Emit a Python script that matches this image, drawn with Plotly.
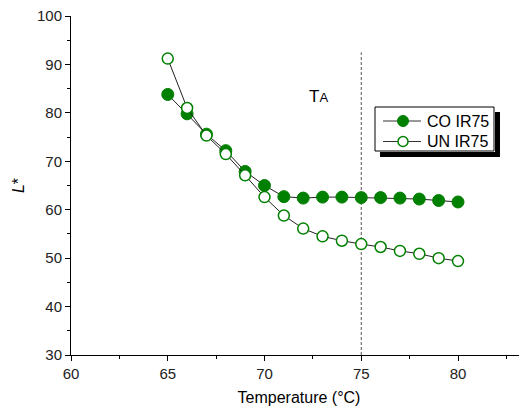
import plotly.graph_objects as go

temps = [65, 66, 67, 68, 69, 70, 71, 72, 73, 74, 75, 76, 77, 78, 79, 80]
co_ir75 = [83.8, 79.8, 75.6, 72.2, 67.9, 65.0, 62.7, 62.4, 62.6, 62.6, 62.5, 62.5, 62.4, 62.2, 61.9, 61.6]
un_ir75 = [91.2, 81.0, 75.3, 71.5, 67.1, 62.6, 58.8, 56.1, 54.5, 53.6, 52.9, 52.3, 51.5, 50.9, 50.0, 49.4]
series_names = ["CO IR75", "UN IR75"]
ta_temp = 75
ta_top = 92.5

green = "#008000"
font = "Liberation Sans, Arial, sans-serif"

# page offset: browser body margin of 8px
OFF = 8
PAGE_W, PAGE_H = 527, 410
W, H = PAGE_W - OFF, PAGE_H - OFF
# plot area in page pixels: x 71..527, y 16.5..355
ml, mr, mt, mb = 71 - OFF, 0, 16 - OFF, PAGE_H - 355
pw, ph = W - ml - mr, H - mt - mb


def px(x):
    return (x - OFF - ml) / pw


def py(y):
    return (H - mb - (y - OFF)) / ph


fig = go.Figure()
fig.add_trace(go.Scatter(
    x=temps, y=co_ir75, mode="lines+markers", name=series_names[0],
    line=dict(color="#222", width=1),
    marker=dict(symbol="circle", size=12, color=green, line=dict(color=green, width=1)),
))
fig.add_trace(go.Scatter(
    x=temps, y=un_ir75, mode="lines+markers", name=series_names[1],
    line=dict(color="#222", width=1),
    marker=dict(symbol="circle", size=11, color="white", line=dict(color=green, width=1.5)),
))

fig.add_shape(type="line", x0=ta_temp, x1=ta_temp, y0=30, y1=ta_top, xref="x", yref="y",
              line=dict(color="#555", width=1, dash="3px,2px"), layer="below")

fig.add_annotation(x=72.8, y=83.3, xref="x", yref="y", showarrow=False,
                   text="T<span style='font-size:13px'>A</span>",
                   font=dict(family=font, size=17, color="black"))

# hand-drawn legend box
fig.add_shape(type="rect", xref="paper", yref="paper",
              x0=px(375), x1=px(494), y0=py(151), y1=py(107),
              fillcolor="white", line=dict(color="black", width=1), layer="above")

# drop shadow as solid annotation strips (right and bottom)
shadow_strips = [
    dict(x=494.5, y=112, w=5, h=44),
    dict(x=380, y=151.5, w=119.5, h=5),
]
for s in shadow_strips:
    fig.add_annotation(xref="paper", yref="paper", x=px(s["x"]), y=py(s["y"]),
                       xanchor="left", yanchor="top", showarrow=False,
                       text=" ", width=s["w"], height=s["h"], borderpad=0, borderwidth=0,
                       bgcolor="black", font=dict(size=1, color="black"))

rows = [121, 141.5]
marker_styles = [
    dict(r=5.5, fill=green, lw=1),
    dict(r=5.0, fill="white", lw=1.5),
]
for name, yy, ms in zip(series_names, rows, marker_styles):
    fig.add_shape(type="line", xref="paper", yref="paper",
                  x0=px(383), x1=px(421), y0=py(yy), y1=py(yy),
                  line=dict(color="#333", width=1), layer="above")
    fig.add_shape(type="circle", xref="paper", yref="paper",
                  x0=px(403 - ms["r"]), x1=px(403 + ms["r"]),
                  y0=py(yy + ms["r"]), y1=py(yy - ms["r"]),
                  fillcolor=ms["fill"], line=dict(color=green, width=ms["lw"]), layer="above")
    fig.add_annotation(xref="paper", yref="paper", x=px(425), y=py(yy),
                       xanchor="left", yanchor="middle", showarrow=False,
                       text=name, font=dict(family=font, size=16, color="black"))

fig.update_layout(
    width=W, height=H,
    margin=dict(l=ml, r=mr, t=mt, b=mb),
    paper_bgcolor="white", plot_bgcolor="white",
    font=dict(family=font, size=15, color="#222"),
    showlegend=False,
    xaxis=dict(range=[60, 60 + pw / 19.35], tickmode="linear", tick0=60, dtick=5, automargin=False,
               showgrid=False, zeroline=False, showline=True, linecolor="black", linewidth=1,
               ticks="outside", ticklen=5, tickcolor="black", ticklabeloverflow="allow",
               minor=dict(dtick=2.5, tick0=60, ticks="outside", ticklen=3, tickcolor="black", showgrid=False),
               title=dict(text="Temperature (°C)", font=dict(family=font, size=16, color="black"), standoff=10),
               tickfont=dict(family=font, size=15, color="#222")),
    yaxis=dict(range=[30, 100], tickmode="linear", tick0=30, dtick=10, automargin=False,
               showgrid=False, zeroline=False, showline=True, linecolor="black", linewidth=1,
               ticks="outside", ticklen=5, tickcolor="black", ticklabeloverflow="allow",
               minor=dict(dtick=5, tick0=30, ticks="outside", ticklen=3, tickcolor="black", showgrid=False),
               title=dict(text="<i>L</i>*", font=dict(family=font, size=16, color="black"), standoff=8),
               tickfont=dict(family=font, size=15, color="#222")),
)

fig.write_html("out.html")
